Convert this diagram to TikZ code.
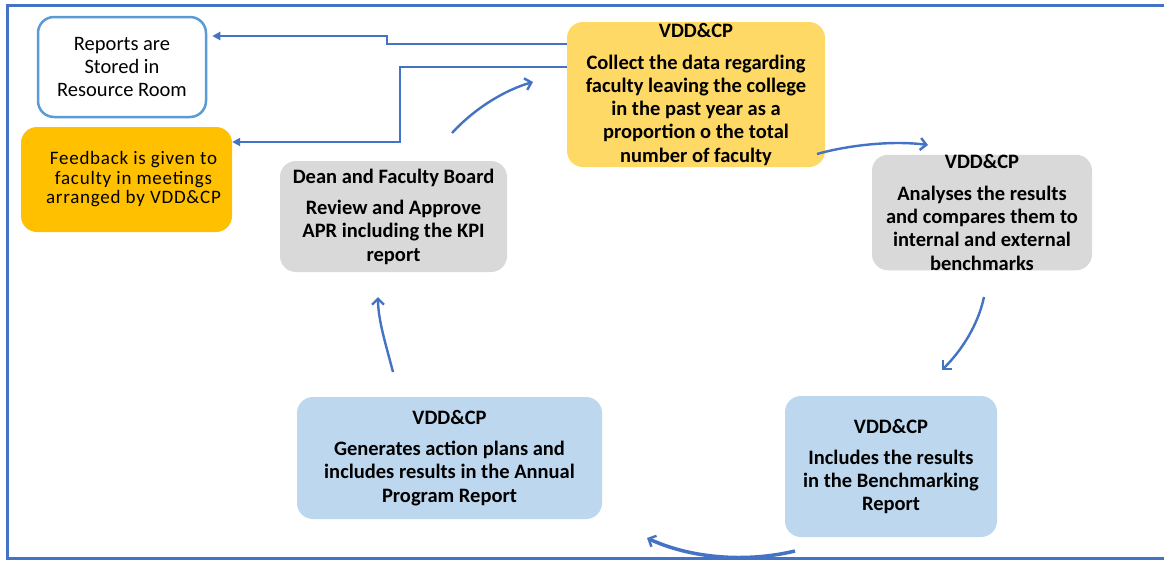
\documentclass[tikz,border=0pt]{standalone}
\usepackage{fontspec}
\setmainfont{Carlito}
\usetikzlibrary{arrows.meta}
\definecolor{frameblue}{HTML}{4472C4}
\definecolor{repblue}{HTML}{5B9BD5}
\definecolor{fborange}{HTML}{FFC000}
\definecolor{colgold}{HTML}{FFD966}
\definecolor{boxgray}{HTML}{D9D9D9}
\definecolor{boxblue}{HTML}{BDD7EE}
\tikzset{
  box/.style={rounded corners=16pt, align=center, inner sep=0pt,
    font=\fontsize{20.5}{23.3}\selectfont},
  boldbox/.style={box, font=\fontsize{20.5}{23.3}\selectfont\bfseries},
  conn/.style={draw=frameblue, line width=2.4pt, -{Straight Barb[length=6pt,width=12pt,line width=2.4pt]}},
  elbow/.style={draw=frameblue, line width=2.2pt, -{Triangle[length=8pt,width=8pt]}},
  frameline/.style={draw=frameblue, line width=3pt}
}
\begin{document}
\begin{tikzpicture}[x=1pt,y=-1pt]
\useasboundingbox (0,0) rectangle (1164,560);
\fill[white] (0,0) rectangle (1164,560);
\draw[frameline] (1164,5) -- (7,5) -- (7,558) -- (1164,558);

\node[box, draw=repblue, line width=2.5pt, fill=white, minimum width=168pt, minimum height=100pt]
  (rep) at (122,67) {Reports are\\Stored in\\Resource Room};
\node[box, fill=fborange, minimum width=211pt, minimum height=105pt,
  font=\fontsize{19}{19.5}\selectfont\addfontfeature{LetterSpace=4}]
  (fb) at (126.5,179.5) {\hspace*{14pt}Feedback is given to\\\hspace*{14pt}faculty in meetings\\\hspace*{14pt}arranged by VDD\&CP};
\node[boldbox, fill=colgold, minimum width=258pt, minimum height=145pt]
  (col) at (696,94.5) {VDD\&CP\\[8pt]Collect the data regarding\\faculty leaving the college\\in the past year as a\\proportion o the total\\number of faculty};
\node[boldbox, fill=boxgray, minimum width=220pt, minimum height=111pt]
  (ana) at (982,212.5) {VDD\&CP\\[8pt]Analyses the results\\and compares them to\\internal and external\\benchmarks};
\node[boldbox, fill=boxgray, minimum width=227pt, minimum height=111pt]
  (dean) at (393.5,216.5) {Dean and Faculty Board\\[8pt]Review and Approve\\APR including the KPI\\report};
\node[boldbox, fill=boxblue, minimum width=305pt, minimum height=122pt]
  (gen) at (449.5,458) {VDD\&CP\\[8pt]Generates action plans and\\includes results in the Annual\\Program Report};
\node[boldbox, fill=boxblue, minimum width=212pt, minimum height=141pt]
  (inc) at (891,466.5) {VDD\&CP\\[8pt]Includes the results\\in the Benchmarking\\Report};

\coordinate (c1s) at (452,133);
\coordinate (c1e) at (533,82);
\coordinate (c2s) at (817,154);
\coordinate (c2e) at (928,145);
\coordinate (c3s) at (984,297);
\coordinate (c3e) at (942,370);
\coordinate (c4s) at (795,551);
\coordinate (c4e) at (647,538);
\coordinate (c5s) at (393,372);
\coordinate (c5e) at (378,297);

\draw[elbow] (col.west |- 0,44) -- (387,44) -- (387,36) -- ([xshift=5pt]rep.east |- 0,36);
\draw[elbow] (col.west |- 0,67) -- (400,67) -- (400,142) -- (fb.east |- 0,142);
\draw[conn] (c1s) .. controls (475,108) and (505,90) .. (c1e);
\draw[conn] (c2s) .. controls (845,146) and (890,140) .. (c2e);
\draw[conn] (c3s) .. controls (978,325) and (962,350) .. (c3e);
\draw[conn, line width=3.5pt] (c4s) .. controls (745,563) and (690,558) .. (c4e);
\draw[conn] (c5s) .. controls (386,345) and (378,320) .. (c5e);
\end{tikzpicture}
\end{document}
